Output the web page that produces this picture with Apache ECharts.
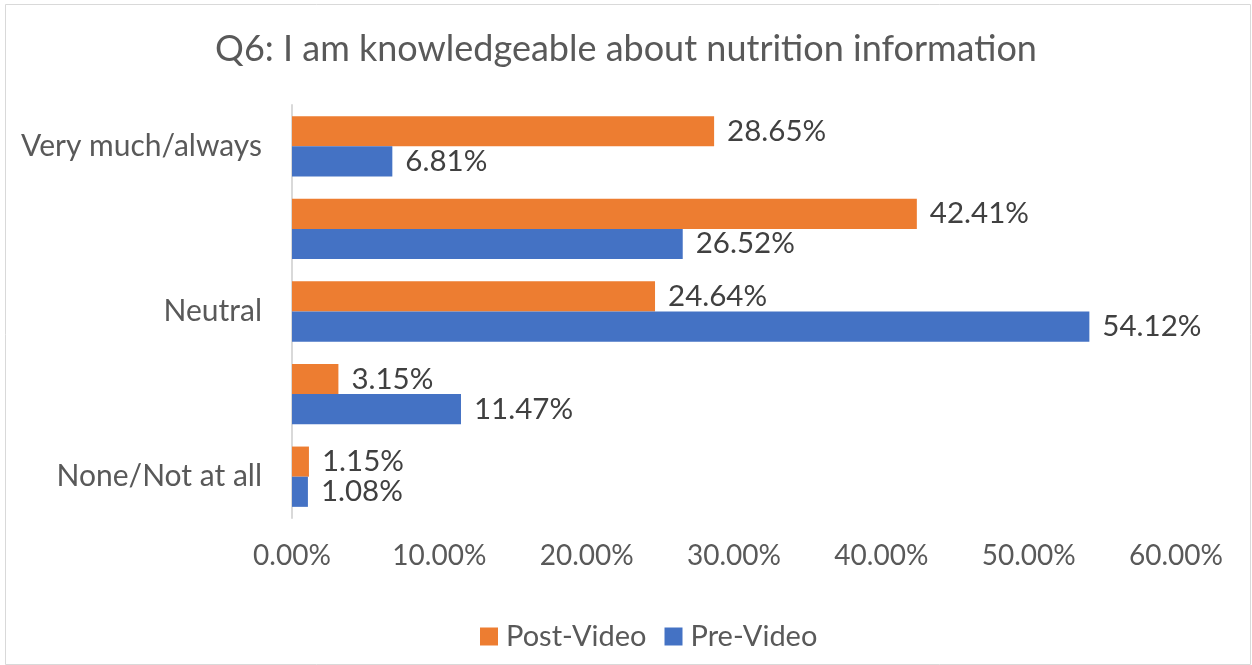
<!DOCTYPE html>
<html>
<head>
<meta charset="utf-8">
<script src="https://cdn.jsdelivr.net/npm/echarts@6/dist/echarts.min.js"></script>
<style>
html,body{margin:0;padding:0;background:#fff;}
#chart{width:1252px;height:665px;}
</style>
</head>
<body>
<div id="chart"></div>
<script>
const categories = ['Very much/always', 'Mostly', 'Neutral', 'A little', 'None/Not at all'];
const postVideo = [28.65, 42.41, 24.64, 3.15, 1.15];
const preVideo = [6.81, 26.52, 54.12, 11.47, 1.08];
const seriesNames = ['Post-Video', 'Pre-Video'];
const titleText = 'Q6: I am knowledgeable about nutrition information';

const FONT = 'Lato';
const chart = echarts.init(document.getElementById('chart'), null, {renderer: 'canvas'});
const fmt = v => Number(v).toFixed(2) + '%';

chart.setOption({
  backgroundColor: '#ffffff',
  animation: false,
  graphic: [{
    type: 'rect', left: 3, top: 2, silent: true,
    shape: {width: 1245, height: 660},
    style: {fill: 'none', stroke: '#D9D9D9', lineWidth: 1}
  }],
  title: {
    text: titleText, left: 'center', top: 26,
    textStyle: {fontFamily: FONT, fontSize: 36, fontWeight: 'normal', color: '#595959'}
  },
  legend: {
    data: seriesNames, bottom: 9, left: 475,
    itemWidth: 18, itemHeight: 18, itemGap: 18,
    icon: 'rect',
    textStyle: {fontFamily: FONT, fontSize: 29, color: '#595959', padding: [0,0,0,3]}
  },
  grid: {left: 292, right: 76, top: 105, bottom: 147, containLabel: false},
  xAxis: {
    type: 'value', min: 0, max: 60, interval: 10,
    axisLine: {show: false}, axisTick: {show: false},
    splitLine: {show: false},
    axisLabel: {formatter: fmt, fontFamily: FONT, fontSize: 28, color: '#595959', margin: 24}
  },
  yAxis: {
    type: 'category', data: categories, inverse: true,
    axisLine: {show: true, lineStyle: {color: '#D9D9D9', width: 2}},
    axisTick: {show: false},
    axisLabel: {interval: 1, fontFamily: FONT, fontSize: 30, color: '#595959', margin: 30}
  },
  series: [
    {
      name: seriesNames[0], type: 'bar', data: postVideo,
      barGap: '0%', barCategoryGap: '27%',
      itemStyle: {color: '#ED7D31'},
      label: {show: true, position: 'right', distance: 13, formatter: p => fmt(p.value),
        fontFamily: FONT, fontSize: 29.5, color: '#404040'}
    },
    {
      name: seriesNames[1], type: 'bar', data: preVideo,
      barGap: '0%', barCategoryGap: '27%',
      itemStyle: {color: '#4472C4'},
      label: {show: true, position: 'right', distance: 13, formatter: p => fmt(p.value),
        fontFamily: FONT, fontSize: 29.5, color: '#404040'}
    }
  ]
});
</script>
</body>
</html>
